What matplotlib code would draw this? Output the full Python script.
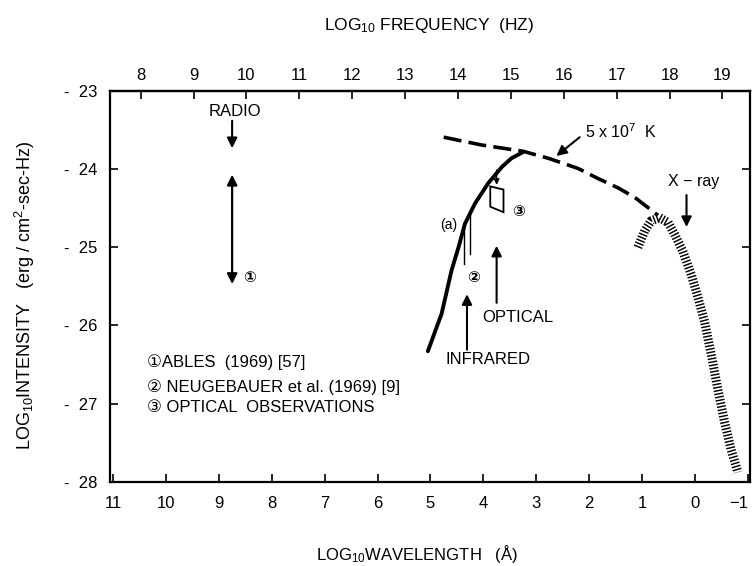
import matplotlib
matplotlib.use("Agg")
import matplotlib.pyplot as plt
import numpy as np
from matplotlib.patches import Polygon

plt.rcParams['font.family'] = ['Liberation Sans', 'DejaVu Sans']
plt.rcParams['mathtext.default'] = 'regular'

# log10 wavelength (A) / log10 intensity
ir_opt_x = [5.05, 4.79, 4.60, 4.47, 4.35, 4.16, 3.91, 3.65, 3.47, 3.25]
ir_opt_y = [-26.33, -25.85, -25.29, -25.00, -24.70, -24.44, -24.18, -23.97, -23.86, -23.78]

bb_x = [4.75, 4.03, 3.25, 2.77, 2.21, 1.83, 1.45, 1.14, 0.89, 0.70]
bb_y = [-23.59, -23.69, -23.77, -23.86, -23.99, -24.12, -24.24, -24.36, -24.49, -24.59]

xray_x = [1.08, 0.95, 0.83, 0.67, 0.51, 0.38, 0.23, 0.07, -0.06, -0.18, -0.31, -0.43, -0.56, -0.68, -0.81]
xray_y = [-25.00, -24.79, -24.66, -24.62, -24.68, -24.84, -25.05, -25.35, -25.65, -25.95,
          -26.38, -26.81, -27.24, -27.58, -27.88]

# optical box (observations 3)
box_x = [3.87, 3.62, 3.62, 3.87]
box_y = [-24.22, -24.26, -24.55, -24.48]

# Neugebauer et al. infrared points (a)
neug_x = [4.36, 4.25]
neug_top = [-24.72, -24.56]
neug_bot = [-25.21, -25.09]

x_ticks = list(range(11, -2, -1))
x_labels = [str(v) if v >= 0 else '\u22121' for v in x_ticks]
f_ticks = list(range(8, 20))
y_ticks = [-28, -27, -26, -25, -24, -23]
y_labels = ['-  28', '-  27', '-  26', '-  25', '-  24', '-  23']

fig = plt.figure(figsize=(7.53, 5.66), dpi=100)
ax = fig.add_axes([0.146, 0.149, 0.850, 0.690])

ax.plot(ir_opt_x, ir_opt_y, color='black', lw=2.8, solid_capstyle='round')
ax.plot(bb_x, bb_y, color='black', lw=2.6, linestyle=(0, (5, 2)), dash_capstyle='butt')
ax.plot(xray_x, xray_y, color='black', lw=6.5, linestyle=(0, (0.16, 0.2)), dash_capstyle='butt')

ax.add_patch(Polygon(list(zip(box_x, box_y)), closed=True, fill=False, lw=1.3, color='black'))
for nx, nt, nb in zip(neug_x, neug_top, neug_bot):
    ax.plot([nx, nx], [nt, nb], color='black', lw=1.0)

arrow = dict(arrowstyle='-|>', color='black', lw=1.5, mutation_scale=15, shrinkA=0, shrinkB=0)
# radio
ax.annotate('', xy=(8.75, -23.73), xytext=(8.75, -23.38), arrowprops=arrow)
ax.annotate('', xy=(8.75, -25.47), xytext=(8.75, -24.07),
            arrowprops=dict(arrowstyle='<|-|>', color='black', lw=1.6, mutation_scale=15,
                            shrinkA=0, shrinkB=0))
# infrared, optical, x-ray
ax.annotate('', xy=(4.31, -25.60), xytext=(4.31, -26.31), arrowprops=arrow)
ax.annotate('', xy=(3.75, -24.98), xytext=(3.75, -25.71), arrowprops=arrow)
ax.annotate('', xy=(0.16, -24.74), xytext=(0.16, -24.33), arrowprops=arrow)
ax.annotate('', xy=(3.75, -24.20), xytext=(3.75, -24.01),
            arrowprops=dict(arrowstyle='-|>', color='black', lw=1.0, mutation_scale=8,
                            shrinkA=0, shrinkB=0))
ax.annotate('', xy=(2.62, -23.83), xytext=(2.18, -23.59), arrowprops=arrow)

ax.text(8.70, -23.26, 'RADIO', ha='center', va='center', fontsize=12)
ax.text(2.08, -23.52, r'5 x 10$^{7}$  K', ha='left', va='center', fontsize=11.5)
ax.text(0.02, -24.16, 'X \u2212 ray', ha='center', va='center', fontsize=11.5)
ax.text(3.34, -25.90, 'OPTICAL', ha='center', va='center', fontsize=12)
ax.text(3.92, -26.44, 'INFRARED', ha='center', va='center', fontsize=12)
ax.text(4.66, -24.72, '(a)', ha='center', va='center', fontsize=10)

circ = dict(ha='center', va='center', fontsize=11, fontweight='bold')
ax.text(8.43, -25.39, '\u2460', **circ)
ax.text(4.19, -25.39, '\u2461', **circ)
ax.text(3.34, -24.55, '\u2462', **circ)

leg = dict(ha='left', va='center', fontsize=12)
ax.text(10.36, -26.47, '\u2460ABLES  (1969) [57]', **leg)
ax.text(10.36, -26.79, '\u2461 NEUGEBAUER et al. (1969) [9]', **leg)
ax.text(10.36, -27.05, '\u2462 OPTICAL  OBSERVATIONS', **leg)

ax.set_xlim(11.06, -1.04)
ax.set_ylim(-28, -23)
ax.set_xticks(x_ticks)
ax.set_xticklabels(x_labels)
ax.set_yticks(y_ticks)
ax.set_yticklabels(y_labels)
ax.tick_params(axis='x', direction='in', length=6, width=1.2, labelsize=12, pad=10)
ax.tick_params(axis='y', direction='in', length=6, width=1.2, labelsize=12, pad=9,
               right=True)
# last wavelength label sits against the right border
ax.get_xticklabels()[-1].set_horizontalalignment('right')
for s in ax.spines.values():
    s.set_linewidth(1.6)

top = ax.secondary_xaxis('top', functions=(lambda x: 18.48 - x, lambda f: 18.48 - f))
top.set_xticks(f_ticks)
top.tick_params(direction='in', length=6, width=1.2, labelsize=12, pad=6)
top.spines['top'].set_linewidth(1.6)

fig.text(0.570, 0.955, r'LOG$_{10}$ FREQUENCY  (HZ)', ha='center', va='center', fontsize=12.5)
fig.text(0.554, 0.022, r'LOG$_{10}$WAVELENGTH   (Å)', ha='center', va='center', fontsize=12)
fig.text(0.033, 0.479, r'LOG$_{10}$INTENSITY   (erg / cm$^{2}$-sec-Hz)', ha='center',
         va='center', rotation=90, fontsize=13)

fig.savefig('out.png', dpi=100)
